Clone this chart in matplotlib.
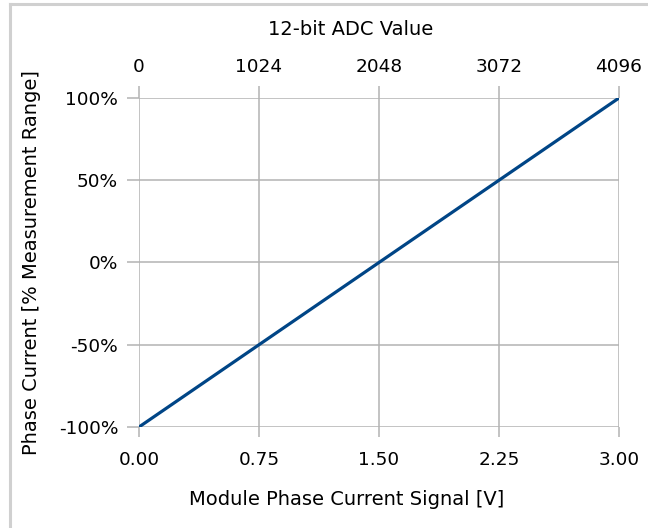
import matplotlib
matplotlib.use("Agg")
import matplotlib.pyplot as plt
from matplotlib.ticker import PercentFormatter
from matplotlib.lines import Line2D

plt.rcParams['font.family'] = ['DejaVu Sans']
plt.rcParams['axes.unicode_minus'] = False

# datos
signal_v = [0.0, 3.0]
current_pct = [-100, 100]
x_ticks = [0.0, 0.75, 1.50, 2.25, 3.00]
y_ticks = [-100, -50, 0, 50, 100]
adc_ticks = [0, 1024, 2048, 3072, 4096]

grid_col = '#b3b3b3'
line_col = '#004586'
tick_fs = 13.3
label_fs = 14

fig = plt.figure(figsize=(6.48, 5.28), dpi=100)
ax = fig.add_axes([0.2145, 0.1913, 0.7407, 0.6231])

ax.plot(signal_v, current_pct, color=line_col, lw=2.3, solid_capstyle='round')
ax.set_xlim(0, 3)
ax.set_ylim(-100, 100)
ax.set_xticks(x_ticks)
ax.set_xticklabels([f"{v:.2f}" for v in x_ticks])
ax.set_yticks(y_ticks)
ax.yaxis.set_major_formatter(PercentFormatter(decimals=0))
ax.grid(True, color=grid_col, lw=1.1)
ax.set_axisbelow(True)
for s in ax.spines.values():
    s.set_visible(False)
ax.tick_params(axis='both', length=9, width=1.1, color=grid_col,
               labelsize=tick_fs, pad=6)
ax.tick_params(axis='x', length=7.5, pad=10)

ax.set_xlabel('Module Phase Current Signal [V]', fontsize=label_fs)
ax.xaxis.set_label_coords(0.433, -0.19)
ax.set_ylabel('Phase Current [% Measurement Range]', fontsize=label_fs)
ax.yaxis.set_label_coords(-0.204, 0.5)

# eje de arriba, valor ADC
ax2 = ax.twiny()
ax2.set_xlim(adc_ticks[0], adc_ticks[-1])
ax2.set_xticks(adc_ticks)
for s in ax2.spines.values():
    s.set_visible(False)
ax2.tick_params(axis='x', length=9, width=1.1, color=grid_col,
                labelsize=tick_fs, pad=7)
ax2.set_xlabel('12-bit ADC Value', fontsize=label_fs)
ax2.xaxis.set_label_coords(0.44, 1.19)

# borde de la figura (solo arriba e izquierda)
border = '#d0d0d0'
fig.add_artist(Line2D([0.0155, 1.0], [0.9925, 0.9925], transform=fig.transFigure,
                      color=border, lw=2.2))
fig.add_artist(Line2D([0.0155, 0.0155], [0.0, 0.9925], transform=fig.transFigure,
                      color=border, lw=2.2))

fig.savefig('out.png', dpi=100)
